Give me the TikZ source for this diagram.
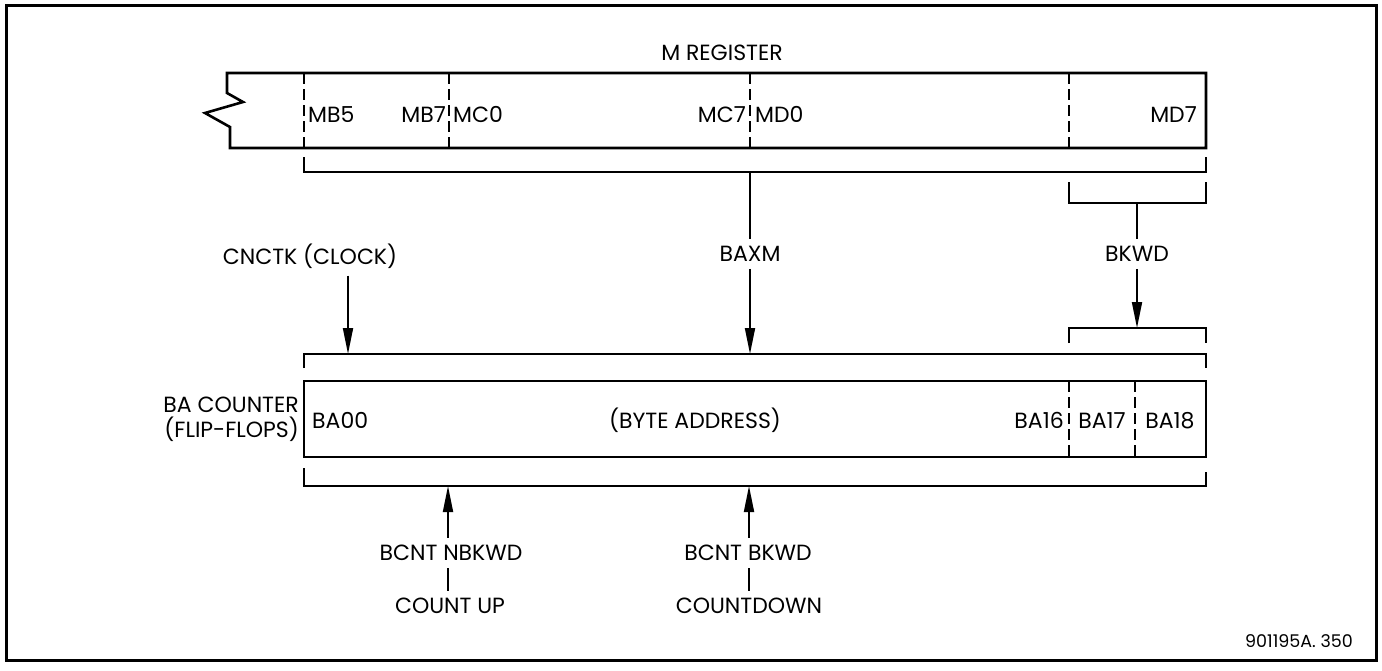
\documentclass[tikz,border=0pt]{standalone}
\usepackage{fontspec}
\setmainfont{Poppins}
\usetikzlibrary{arrows.meta,positioning,calc}

\begin{document}
\begin{tikzpicture}[x=1pt, y=-1pt,
  every node/.style={font=\fontsize{22}{25}\selectfont, inner sep=0pt},
  reg/.style={line width=2.6pt},
  divline/.style={line width=2pt, dash pattern=on 11pt off 5pt},
  brk/.style={line width=2pt},
  lbl/.style={inner sep=7pt},
  sig/.style={line width=1.8pt, -{Triangle[length=26pt,width=10pt]}}]
  \useasboundingbox (0,0) rectangle (1382,670);
  \draw[line width=3pt] (6,5) rectangle (1376,660);

  % M register
  \draw[reg] (1206,73) -- (227,73) -- (227,93) -- (243,102) -- (205,113) -- (230,127) -- (230,148) -- (1206,148) -- cycle;
  \foreach \x in {304,449,750,1069}{\draw[divline] (\x,73) -- (\x,148);}
  \node[anchor=base] (mreg) at (722,60) {M REGISTER};
  \node[anchor=base west] (mb5) at (308,122) {MB5};
  \node[anchor=base east] (mb7) at (446,122) {MB7};
  \node[anchor=base west] (mc0) at (453,122) {MC0};
  \node[anchor=base east] (mc7) at (746,122) {MC7};
  \node[anchor=base west] (md0) at (755,122) {MD0};
  \node[anchor=base east] (md7) at (1197,122) {MD7};

  \draw[brk] (304,157) -- (304,172) -- (1206,172) -- (1206,157);
  \coordinate (mout) at (750,172);
  \draw[brk] (1069,182) -- (1069,203) -- (1206,203) -- (1206,182);
  \coordinate (bkout) at (1137,203);

  % signals into BA counter
  \node[lbl] (baxm) at (750,254) {BAXM};
  \node[lbl] (bkwd) at (1137,254) {BKWD};
  \node[lbl] (clock) at (310,256) {CNCTK (CLOCK)};
  \draw[brk] (1069,343) -- (1069,328) -- (1206,328) -- (1206,343);
  \coordinate (bkin) at (1137,328);
  \draw[brk] (304,368) -- (304,354) -- (1206,354) -- (1206,368);
  \coordinate (clkin) at (348,354);
  \coordinate (baxin) at (750,354);
  \draw[brk] (mout) -- (baxm.north);
  \draw[sig] (baxm.south) -- (baxin);
  \draw[brk] (bkout) -- (bkwd.north);
  \draw[sig] (bkwd.south) -- (bkin);
  \draw[sig] (clock.south -| clkin) -- (clkin);

  % BA counter
  \draw[reg] (304,381) rectangle (1206,457);
  \foreach \x in {1069,1135}{\draw[divline] (\x,381) -- (\x,457);}
  \node[anchor=base west] (ba00) at (312,428) {BA00};
  \node[anchor=base] (byte) at (695,428) {(BYTE ADDRESS)};
  \node[anchor=base east] (ba16) at (1064,428) {BA16};
  \node[anchor=base] (ba17) at (1102,428) {BA17};
  \node[anchor=base] (ba18) at (1170,428) {BA18};
  \node[anchor=east, align=right] (bactr) at (299,419) {BA COUNTER\\(FLIP-FLOPS)};

  \draw[brk] (304,468) -- (304,486) -- (1206,486) -- (1206,472);
  \coordinate (upin) at (448,486);
  \coordinate (dnin) at (749,486);
  \node[lbl] (nbk) at (451,553) {BCNT NBKWD};
  \node[lbl] (cup) at (450,606) {COUNT UP};
  \node[lbl] (bk) at (748,553) {BCNT BKWD};
  \node[lbl] (cdn) at (749,606) {COUNTDOWN};
  \draw[sig] (nbk.north -| upin) -- (upin);
  \draw[brk] (nbk.south -| upin) -- (cup.north -| upin);
  \draw[sig] (bk.north -| dnin) -- (dnin);
  \draw[brk] (bk.south -| dnin) -- (cdn.north -| dnin);

  \node[anchor=base east, font=\fontsize{17.5}{20}\selectfont] (tag) at (1353,647) {901195A. 350};
\end{tikzpicture}
\end{document}
